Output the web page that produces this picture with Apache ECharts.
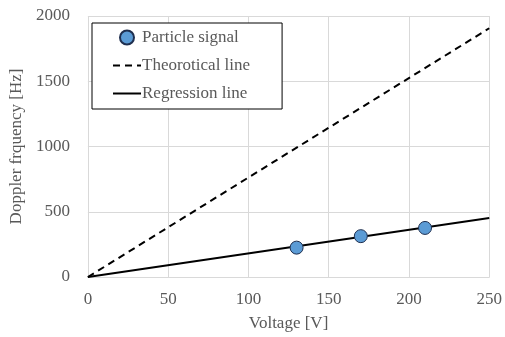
<!DOCTYPE html>
<html><head><meta charset="utf-8">
<script src="https://cdn.jsdelivr.net/npm/echarts@6/dist/echarts.min.js"></script>
<style>html,body{margin:0;padding:0;background:#fff}#c{width:505px;height:337px}</style>
</head><body><div id="c"></div>
<script>
const voltage = [130, 170, 210];
const particleSignal = [225, 313, 376];
const theoreticalX = [0, 250];
const theoreticalY = [0, 1906];
const regressionX = [0, 250];
const regressionY = [0, 452];
const xTicks = [0, 50, 100, 150, 200, 250];
const yTicks = [0, 500, 1000, 1500, 2000];

const font = 'Liberation Serif';
const gray = '#595959';
const chart = echarts.init(document.getElementById('c'));
chart.setOption({
  animation: false,
  grid: {left: 86, right: 15, top: 16, bottom: 59, containLabel: false},
  legend: {
    orient: 'vertical', left: 92, top: 23,
    backgroundColor: '#fff', borderColor: '#000', borderWidth: 1,
    padding: [6, 32, 7, 20], itemGap: 11, itemWidth: 28, itemHeight: 14,
    textStyle: {fontFamily: font, fontSize: 17, color: gray, padding: [0, 0, 0, -4]},
    data: [
      {name: 'Particle signal', icon: 'circle'},
      {name: 'Theorotical line', itemStyle: {opacity: 0}},
      {name: 'Regression line', itemStyle: {opacity: 0}}
    ]
  },
  xAxis: {
    type: 'value', min: 0, max: 250, interval: 50,
    name: 'Voltage [V]', nameLocation: 'middle', nameGap: 38,
    nameTextStyle: {fontFamily: font, fontSize: 17, color: gray},
    axisLine: {show: true, lineStyle: {color: '#d9d9d9'}},
    axisTick: {show: false},
    axisLabel: {fontFamily: font, fontSize: 17, color: gray, margin: 14,
      formatter: v => xTicks.includes(v) ? String(v) : ''},
    splitLine: {show: true, lineStyle: {color: '#d9d9d9'}}
  },
  yAxis: {
    type: 'value', min: 0, max: 2000, interval: 500,
    name: 'Doppler frquency [Hz]', nameLocation: 'middle', nameGap: 56,
    nameTextStyle: {fontFamily: font, fontSize: 17, color: gray},
    axisLine: {show: false}, axisTick: {show: false},
    axisLabel: {fontFamily: font, fontSize: 17, color: gray, margin: 18,
      formatter: v => yTicks.includes(v) ? String(v) : ''},
    splitLine: {show: true, lineStyle: {color: '#d9d9d9'}}
  },
  series: [
    {
      name: 'Theorotical line', type: 'line', symbol: 'none',
      lineStyle: {color: '#000', width: 2, type: [7, 5]},
      itemStyle: {color: '#000'},
      data: theoreticalX.map((x, i) => [x, theoreticalY[i]]), z: 2
    },
    {
      name: 'Regression line', type: 'line', symbol: 'none',
      lineStyle: {color: '#000', width: 2},
      itemStyle: {color: '#000'},
      data: regressionX.map((x, i) => [x, regressionY[i]]), z: 2
    },
    {
      name: 'Particle signal', type: 'scatter', symbolSize: 13,
      itemStyle: {color: '#5b9bd5', borderColor: '#1f2f4f', borderWidth: 1, opacity: 1},
      data: voltage.map((x, i) => [x, particleSignal[i]]), z: 3
    }
  ]
});
</script></body></html>
